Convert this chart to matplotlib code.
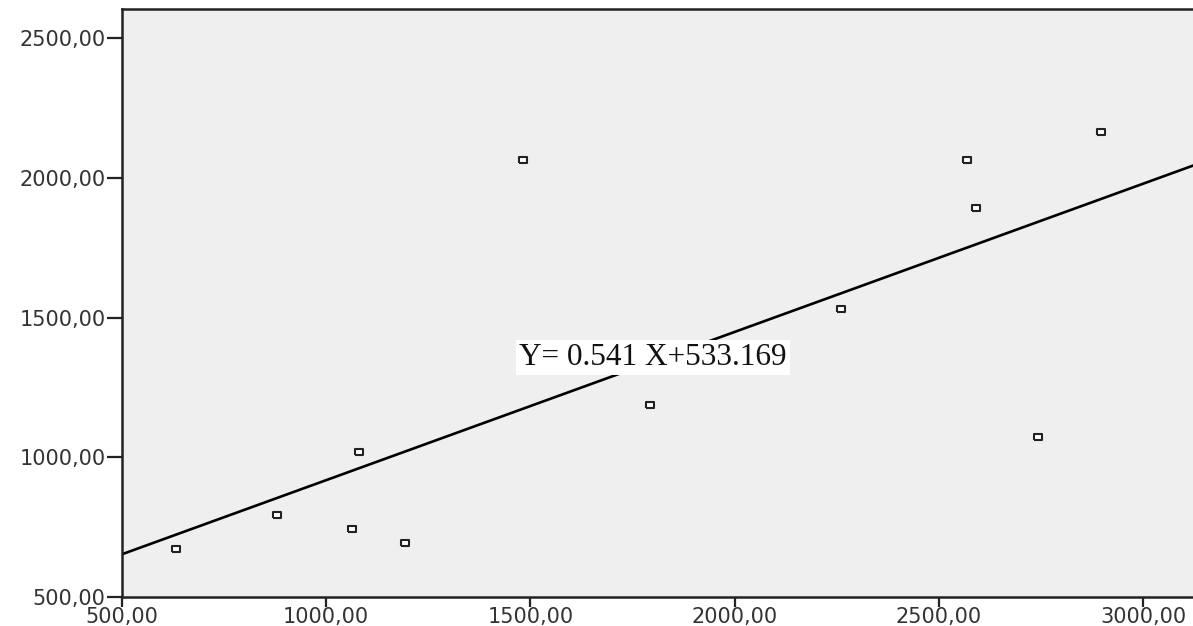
import numpy as np
import matplotlib.pyplot as plt

# values
x_values = [632, 880, 1063, 1080, 1193, 1482, 1793, 2261, 2569, 2591, 2743, 2897]
y_values = [671, 793, 743, 1018, 693, 2064, 1186, 1529, 2064, 1893, 1071, 2164]
x_ticks = [500, 1000, 1500, 2000, 2500, 3000]
y_ticks = [500, 1000, 1500, 2000, 2500]
equation = 'Y= 0.541 X+533.169'


def fmt(v):
    return f'{v:.2f}'.replace('.', ',')


def main():
    fig = plt.figure(figsize=(11.93, 6.26), dpi=100)
    ax = fig.add_axes([122 / 1193, 29 / 626, 1 - 122 / 1193, 588 / 626])
    ax.set_facecolor('#efefef')

    xmin, xmax = 500, 3122
    # fit line through the points (drawn across the whole axis)
    slope, icpt = np.polyfit(x_values, y_values, 1)
    xs = np.array([xmin, xmax])
    ax.plot(xs, slope * xs + icpt, color='black', lw=1.9, zorder=2)

    # small hollow rectangles, wider than tall
    box = [(-1.4, -1), (1.4, -1), (1.4, 1), (-1.4, 1), (-1.4, -1)]
    ax.scatter(x_values, y_values, marker=box, s=40, facecolor='white',
               edgecolor='#222222', linewidth=1.5, zorder=3)

    ax.text(1800, 1357, equation, family='Liberation Serif', fontsize=22.5,
            ha='center', va='center', color='#111111',
            bbox=dict(facecolor='white', edgecolor='none', pad=2), zorder=4)

    ax.set_xlim(xmin, xmax)
    ax.set_ylim(500, 2604)
    ax.set_xticks(x_ticks)
    ax.set_yticks(y_ticks)
    ax.set_xticklabels([fmt(v) for v in x_ticks])
    ax.set_yticklabels([fmt(v) for v in y_ticks])
    ax.tick_params(width=1.6, color='#222222', labelsize=15,
                   labelcolor='#333333', pad=1)
    ax.tick_params(axis='x', length=7, pad=0)
    ax.tick_params(axis='y', length=11, pad=1)
    for lab in ax.get_xticklabels() + ax.get_yticklabels():
        lab.set_family('DejaVu Sans')

    ax.spines['right'].set_visible(False)
    for s in ['left', 'top', 'bottom']:
        ax.spines[s].set_linewidth(1.8)
        ax.spines[s].set_color('#222222')

    fig.savefig('out.png', dpi=100)


if __name__ == "__main__":
    main()
